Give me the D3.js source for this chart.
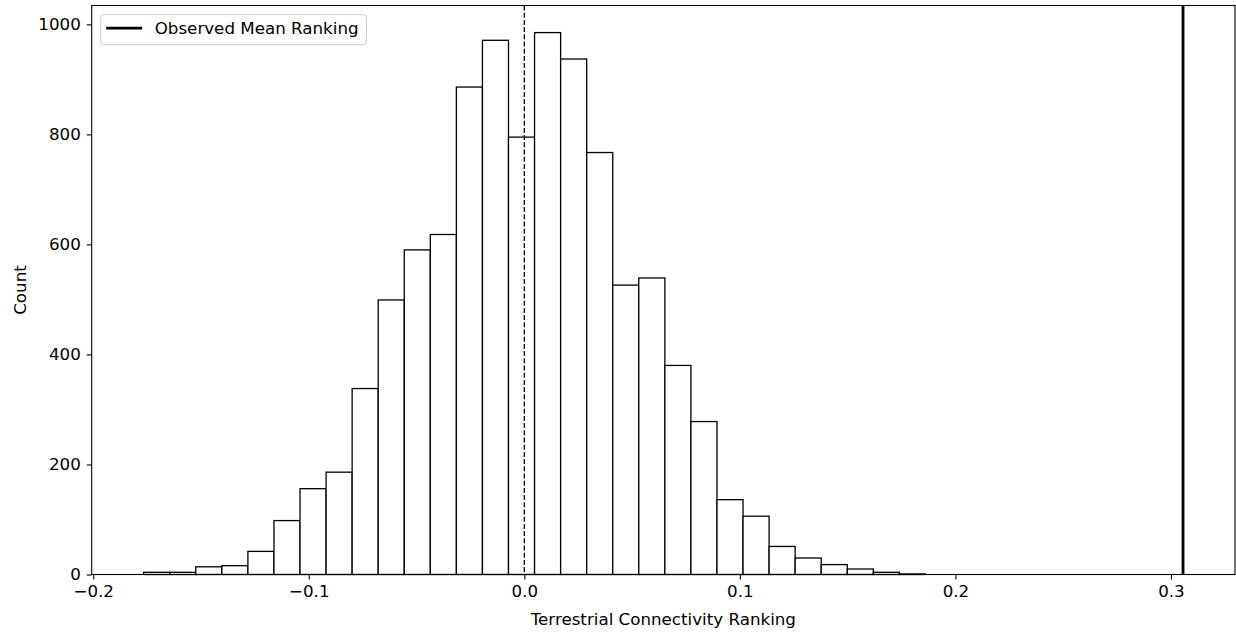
<!DOCTYPE html>
<html>
<head>
<meta charset="utf-8">
<script src="https://cdn.jsdelivr.net/npm/d3@7"></script>
<style>
  html, body { margin: 0; padding: 0; background: #fff; }
  svg { display: block; }
  text { font-family: "DejaVu Sans", sans-serif; fill: #000; }
</style>
</head>
<body>
<svg id="chart" width="1236" height="633"></svg>
<script>
// ---- data ----
const binLo = -0.1766;          // left edge of first bin
const binHi = 0.1861;           // right edge of last bin
const counts = [4, 4, 14, 16, 42, 98, 156, 186, 338, 499, 590, 618, 886, 971, 795,
                985, 937, 767, 526, 539, 380, 278, 136, 106, 51, 30, 18, 10, 4, 1];
const nullMean = 0.0;           // dashed line
const observedMean = 0.3056;    // solid line
const xTicks = [-0.2, -0.1, 0.0, 0.1, 0.2, 0.3];
const yTicks = [0, 200, 400, 600, 800, 1000];
const xLabel = "Terrestrial Connectivity Ranking";
const yLabel = "Count";
const legendLabel = "Observed Mean Ranking";

// ---- layout ----
const W = 1236, H = 633;
const m = { left: 91.7, top: 5.5, right: 1235, bottom: 574.5 };
const fs = 16.7;

const svg = d3.select("#chart");

const nb = counts.length;
const bw = (binHi - binLo) / nb;
const bins = counts.map((c, i) => ({ x0: binLo + i * bw, x1: binLo + (i + 1) * bw, c }));

const xmin = Math.min(binLo, observedMean), xmax = Math.max(binHi, observedMean);
const xpad = (xmax - xmin) * 0.05;
const x = d3.scaleLinear().domain([xmin - xpad, xmax + xpad]).range([m.left, m.right]);
const y = d3.scaleLinear().domain([0, d3.max(counts) * 1.05]).range([m.bottom, m.top]);

// bars
svg.append("g").selectAll("rect").data(bins).join("rect")
  .attr("x", d => x(d.x0))
  .attr("y", d => y(d.c))
  .attr("width", d => x(d.x1) - x(d.x0))
  .attr("height", d => y(0) - y(d.c))
  .attr("fill", "#fff")
  .attr("stroke", "#000")
  .attr("stroke-width", 1.3);

// dashed null mean line
svg.append("line")
  .attr("x1", x(nullMean)).attr("x2", x(nullMean))
  .attr("y1", m.top).attr("y2", m.bottom)
  .attr("stroke", "#000").attr("stroke-width", 1.3)
  .attr("stroke-dasharray", "5,2.2");

// observed mean line
svg.append("line")
  .attr("x1", x(observedMean)).attr("x2", x(observedMean))
  .attr("y1", m.top).attr("y2", m.bottom)
  .attr("stroke", "#000").attr("stroke-width", 2.8);

// axes
const fmt = v => (v < 0 ? "\u2212" : "") + Math.abs(v).toFixed(1);
const xAxis = d3.axisBottom(x).tickValues(xTicks).tickFormat(fmt).tickSize(4.9).tickPadding(5.5);
const yAxis = d3.axisLeft(y).tickValues(yTicks).tickFormat(d3.format("d")).tickSize(4.9).tickPadding(6);

const gx = svg.append("g").attr("transform", `translate(0,${m.bottom})`).call(xAxis);
const gy = svg.append("g").attr("transform", `translate(${m.left},0)`).call(yAxis);
[gx, gy].forEach(g => {
  g.select(".domain").remove();
  g.selectAll(".tick line").attr("stroke", "#000").attr("stroke-width", 1.1);
  g.selectAll(".tick text").attr("font-size", fs).attr("font-family", "DejaVu Sans").attr("fill", "#000");
});

// spines
svg.append("rect")
  .attr("x", m.left).attr("y", m.top)
  .attr("width", m.right - m.left).attr("height", m.bottom - m.top)
  .attr("fill", "none").attr("stroke", "#000").attr("stroke-width", 1.1);

// axis labels
svg.append("text")
  .attr("x", (m.left + m.right) / 2).attr("y", 625)
  .attr("text-anchor", "middle").attr("font-size", fs)
  .text(xLabel);
svg.append("text")
  .attr("transform", `translate(26,${(m.top + m.bottom) / 2}) rotate(-90)`)
  .attr("text-anchor", "middle").attr("font-size", fs)
  .text(yLabel);

// legend
const lg = svg.append("g").attr("transform", `translate(${m.left + 9},${m.top + 9.2})`);
const lt = lg.append("text").attr("x", 54).attr("y", 19.5).attr("font-size", fs).text(legendLabel);
const tw = lt.node().getComputedTextLength();
lg.insert("rect", "text")
  .attr("x", 0).attr("y", 0).attr("rx", 3).attr("ry", 3)
  .attr("width", 54 + tw + 8).attr("height", 30)
  .attr("fill", "#fff").attr("fill-opacity", 0.8)
  .attr("stroke", "#ccc").attr("stroke-width", 1);
lg.append("line")
  .attr("x1", 5.5).attr("x2", 41.5).attr("y1", 13.5).attr("y2", 13.5)
  .attr("stroke", "#000").attr("stroke-width", 2.8);
</script>
</body>
</html>
